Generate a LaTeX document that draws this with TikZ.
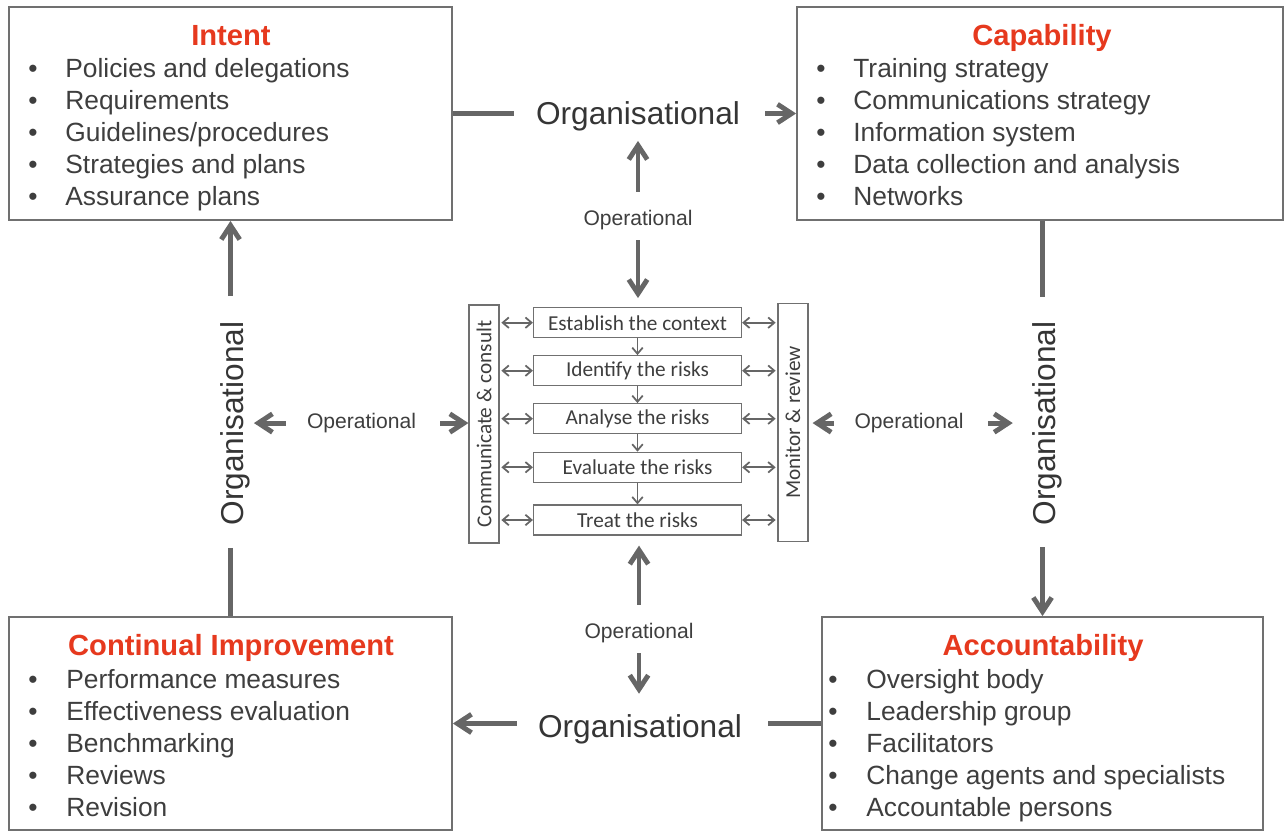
\documentclass[tikz,border=0pt]{standalone}
\usepackage{fontspec}
\setmainfont{Liberation Sans}
\newfontfamily\calibri{Carlito}
\usetikzlibrary{arrows.meta}
\definecolor{linegray}{RGB}{102,102,102}
\definecolor{boxgray}{RGB}{112,112,112}
\definecolor{txtgray}{RGB}{62,62,62}
\definecolor{titlered}{RGB}{230,57,30}
\tikzset{
  panel/.style={draw=boxgray, line width=1.1pt, minimum height=4.26cm, inner sep=0pt},
  paneltitle/.style={anchor=base, inner sep=0pt, text=titlered, font=\fontsize{16.6}{20}\selectfont\bfseries},
  bullet/.style={anchor=base, inner sep=0pt, text=txtgray, font=\fontsize{15}{18}\selectfont},
  item/.style={anchor=base west, inner sep=0pt, text=txtgray, font=\fontsize{15}{18}\selectfont},
  orglabel/.style={anchor=base, inner sep=0pt, text=txtgray!85!black, font=\fontsize{18}{22}\selectfont},
  oplabel/.style={anchor=base, inner sep=0pt, text=txtgray, font=\fontsize{12}{14}\selectfont},
  riskstep/.style={draw=boxgray, line width=0.7pt, minimum width=4.16cm, minimum height=0.6cm, inner sep=0pt, text=txtgray, font=\calibri\fontsize{12.1}{14}\selectfont},
  sidebar/.style={riskstep, rotate=90, minimum width=4.76cm},
  bigline/.style={draw=linegray, line width=2.8pt},
  bigarrow/.style={bigline, -{Straight Barb[length=8pt,width=10.5pt]}},
  smallarrow/.style={draw=linegray, line width=1pt, -{Straight Barb[length=3.5pt,width=6pt]}},
  twoway/.style={draw=linegray, line width=1pt, {Straight Barb[length=3.5pt,width=6pt]}-{Straight Barb[length=3.5pt,width=6pt]}}
}
\begin{document}
\begin{tikzpicture}[x=0.02cm, y=-0.02cm]
\useasboundingbox (0,0) rectangle (1284,832);

% the four panels
\node[panel, minimum width=8.86cm] (intent) at (230.5,113.5) {};
\node[panel, minimum width=9.72cm] (capab) at (1040,113.5) {};
\node[panel, minimum width=8.86cm] (contimp) at (230.5,723.5) {};
\node[panel, minimum width=8.82cm] (account) at (1042.5,723.5) {};

\node[paneltitle] (intentT) at (231,45) {Intent};
\node[paneltitle] (capabT) at (1042,45) {Capability};
\node[paneltitle] (contimpT) at (231,655) {Continual Improvement};
\node[paneltitle] (accountT) at (1043,655) {Accountability};

\foreach \txt [count=\i] in {Policies and delegations, Requirements, Guidelines/procedures, Strategies and plans, Assurance plans} {
  \node[bullet] (intentB\i) at (33,{45+32*\i}) {•};
  \node[item] (intent\i) at (65,{45+32*\i}) {\txt};
}
\foreach \txt [count=\i] in {Training strategy, Communications strategy, Information system, Data collection and analysis, Networks} {
  \node[bullet] (capabB\i) at (821,{45+32*\i}) {•};
  \node[item] (capab\i) at (853,{45+32*\i}) {\txt};
}
\foreach \txt [count=\i] in {Performance measures, Effectiveness evaluation, Benchmarking, Reviews, Revision} {
  \node[bullet] (contimpB\i) at (33,{656+32*\i}) {•};
  \node[item] (contimp\i) at (66,{656+32*\i}) {\txt};
}
\foreach \txt [count=\i] in {Oversight body, Leadership group, Facilitators, Change agents and specialists, Accountable persons} {
  \node[bullet] (accountB\i) at (833,{656+32*\i}) {•};
  \node[item] (account\i) at (866,{656+32*\i}) {\txt};
}

% labels on the links
\node[orglabel] (orgT) at (638,124) {Organisational};
\node[oplabel] (opT) at (638,225) {Operational};
\node[orglabel, rotate=90] (orgL) at (243,423.5) {Organisational};
\node[oplabel] (opL) at (361.5,428.5) {Operational};
\node[orglabel, rotate=90] (orgR) at (1055,423.5) {Organisational};
\node[oplabel] (opR) at (909,428.5) {Operational};
\node[oplabel] (opB) at (639,638) {Operational};
\node[orglabel] (orgB) at (640,737) {Organisational};

% risk process in the middle
\foreach \txt/\y [count=\i] in {Establish the context/322.7, Identify the risks/370.7, Analyse the risks/418.7, Evaluate the risks/467.3, Treat the risks/520}
  \node[riskstep] (risk\i) at (637.5,\y) {\txt};
\node[sidebar] (comm) at (484,424) {Communicate \& consult};
\node[sidebar] (monitor) at (793,422.5) {Monitor \& review};

\foreach \i/\j in {1/2,2/3,3/4,4/5} \draw[smallarrow] (risk\i) -- (risk\j);
\foreach \i in {1,...,5} {
  \draw[twoway, shorten <=1pt] (comm.south |- risk\i.west) -- (risk\i.west);
  \draw[twoway, shorten >=1pt] (risk\i.east) -- (monitor.north |- risk\i.east);
}

% links between the panels
\draw[bigline, shorten >=0.44cm] (intent.east) -- (intent.east -| orgT.west);
\draw[bigarrow, shorten <=0.5cm] (orgT.east |- capab.west) -- (capab.west);
\draw[bigline, shorten >=0.49cm] (account.north |- capab.south) -- (account.north |- orgR.east);
\draw[bigarrow, shorten <=0.43cm] (account.north |- orgR.west) -- (account.north);
\draw[bigline, shorten >=0.52cm] (account.west) -- (account.west -| orgB.east);
\draw[bigarrow, shorten <=0.42cm] (contimp.east -| orgB.west) -- (contimp.east);
\draw[bigline, shorten <=0.44cm] (contimp.north |- orgL.west) -- (contimp.north);
\draw[bigarrow, shorten <=0.5cm] (intent.south |- orgL.east) -- (intent.south);

% operational links to the process
\draw[bigarrow, shorten <=0.35cm, shorten >=0.2cm] (opT.north) -- (orgT.south);
\draw[bigarrow, shorten <=0.21cm, shorten >=0.18cm] (opT.south) -- (opT.south |- risk1.north);
\draw[bigarrow, shorten <=0.42cm, shorten >=0.08cm] (opL.west) -- (opL.west -| orgL.south);
\draw[bigarrow, shorten <=0.48cm] (opL.east) -- (opL.east -| comm.north);
\draw[bigarrow, shorten <=0.4cm, shorten >=0.08cm] (opR.west) -- (opR.west -| monitor.south);
\draw[bigarrow, shorten <=0.48cm, shorten >=0.38cm] (opR.east) -- (opR.east -| orgR.north);
\draw[bigarrow, shorten <=0.35cm, shorten >=0.2cm] (opB.north) -- (opB.north |- risk5.south);
\draw[bigarrow, shorten <=0.21cm, shorten >=0.4cm] (opB.south) -- (opB.south |- orgB.north);
\end{tikzpicture}
\end{document}
